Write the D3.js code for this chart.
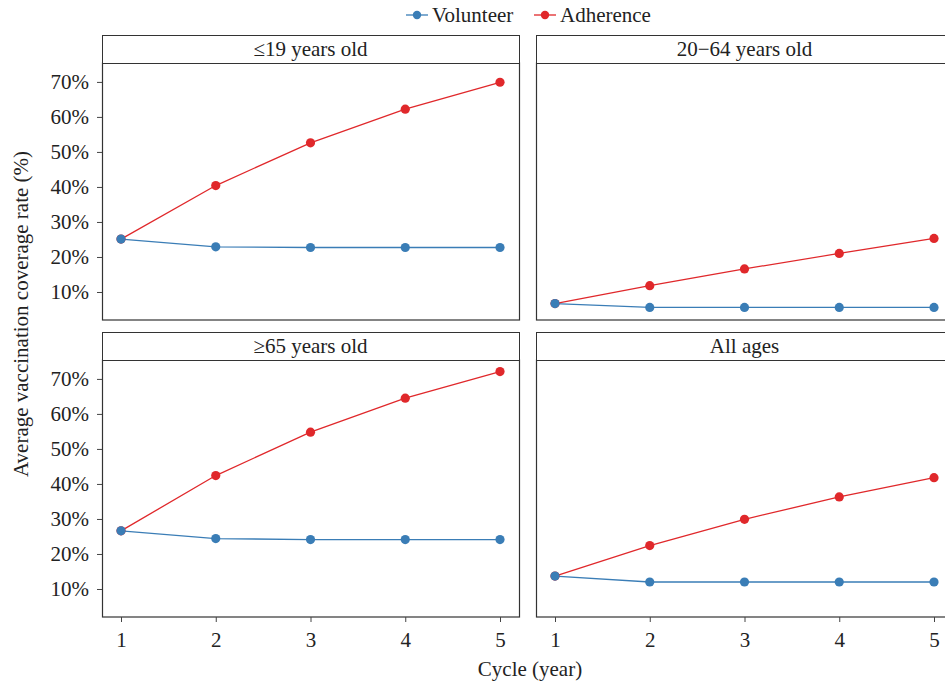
<!DOCTYPE html>
<html>
<head>
<meta charset="utf-8" />
<script src="https://cdn.jsdelivr.net/npm/d3@7"></script>
<style>
  body { margin: 0; background: #fff; }
  svg text { font-family: "Liberation Serif", "Times New Roman", Times, "DejaVu Serif", serif !important; fill: #222; }
</style>
</head>
<body>
<svg width="945" height="687"></svg>
<script>
// data
var cycles = [1, 2, 3, 4, 5];
var panels = ["\u226419 years old", "20\u221264 years old", "\u226565 years old", "All ages"];
var volunteer = [
  [25.1, 22.9, 22.7, 22.7, 22.7],
  [6.7, 5.6, 5.6, 5.6, 5.6],
  [26.6, 24.4, 24.1, 24.1, 24.1],
  [13.7, 12.0, 12.0, 12.0, 12.0]
];
var adherence = [
  [25.1, 40.4, 52.6, 62.2, 69.9],
  [6.7, 11.8, 16.6, 21.0, 25.3],
  [26.6, 42.4, 54.8, 64.5, 72.1],
  [13.7, 22.4, 29.9, 36.3, 41.8]
];
var yTicks = [10, 20, 30, 40, 50, 60, 70];
var seriesNames = ["Volunteer", "Adherence"];
var colors = ["#3a7db6", "#e0282b"];

var svg = d3.select("svg");
var fs = 21;

var panelW = 417, plotH = 257, stripH = 28;
var panelX = [102, 536];
var panelY = [35, 332];   // top of strip

var x = d3.scaleLinear().domain([1, 5]).range([19, 398]);
var y = d3.scaleLinear().domain([2.0, 75.4]).range([plotH, 0]);

var line = d3.line()
  .x(function(d, i) { return x(cycles[i]); })
  .y(function(d) { return y(d); });

panels.forEach(function(name, p) {
  var col = p % 2, row = Math.floor(p / 2);
  var g = svg.append("g")
    .attr("transform", "translate(" + panelX[col] + "," + (panelY[row] + stripH) + ")");

  // strip
  var strip = svg.append("g")
    .attr("transform", "translate(" + panelX[col] + "," + panelY[row] + ")");
  strip.append("rect")
    .attr("x", 0.5).attr("y", 0.5)
    .attr("width", panelW).attr("height", stripH)
    .attr("fill", "#fff").attr("stroke", "#333").attr("stroke-width", 1);
  strip.append("text")
    .attr("x", panelW / 2).attr("y", 21)
    .attr("text-anchor", "middle")
    .attr("font-size", fs)
    .text(name);

  // panel border
  g.append("rect")
    .attr("x", 0.5).attr("y", 0)
    .attr("width", panelW).attr("height", plotH)
    .attr("fill", "none").attr("stroke", "#333").attr("stroke-width", 1.2);
  g.append("line")
    .attr("x1", 0).attr("x2", panelW + 1)
    .attr("y1", 0).attr("y2", 0)
    .attr("stroke", "#111").attr("stroke-width", 2);

  // y axis on left column only
  if (col == 0) {
    var ya = g.append("g")
      .call(d3.axisLeft(y).tickValues(yTicks).tickSize(5).tickPadding(8)
        .tickFormat(function(d) { return d + "%"; }));
    ya.select(".domain").remove();
    ya.selectAll("line").attr("stroke", "#444");
    ya.selectAll("text").attr("font-size", fs).attr("fill", "#222");
  }

  // x axis on bottom row only
  if (row == 1) {
    var xa = g.append("g")
      .attr("transform", "translate(0," + plotH + ")")
      .call(d3.axisBottom(x).tickValues(cycles).tickSize(5).tickPadding(10)
        .tickFormat(d3.format("d")));
    xa.select(".domain").remove();
    xa.selectAll("line").attr("stroke", "#444");
    xa.selectAll("text").attr("font-size", fs).attr("fill", "#222");
  }

  [volunteer[p], adherence[p]].forEach(function(vals, s) {
    g.append("path")
      .datum(vals)
      .attr("d", line)
      .attr("fill", "none")
      .attr("stroke", colors[s])
      .attr("stroke-width", 1.3);
  });
  // adherence points first, volunteer on top
  [adherence[p], volunteer[p]].forEach(function(vals, k) {
    var s = k == 0 ? 1 : 0;
    g.selectAll(null)
      .data(vals)
      .enter().append("circle")
      .attr("cx", function(d, i) { return x(cycles[i]); })
      .attr("cy", function(d) { return y(d); })
      .attr("r", 4.6)
      .attr("fill", colors[s]);
  });
});

// axis titles
svg.append("text")
  .attr("x", 530).attr("y", 676)
  .attr("text-anchor", "middle")
  .attr("font-size", fs)
  .text("Cycle (year)");
svg.append("text")
  .attr("transform", "translate(28,314) rotate(-90)")
  .attr("text-anchor", "middle")
  .attr("font-size", fs)
  .text("Average vaccination coverage rate (%)");

// legend
var legX = [406, 534];
seriesNames.forEach(function(name, s) {
  var lg = svg.append("g").attr("transform", "translate(" + legX[s] + ",15)");
  lg.append("line").attr("x1", 0).attr("x2", 22).attr("y1", 0).attr("y2", 0)
    .attr("stroke", colors[s]).attr("stroke-width", 1.3);
  lg.append("circle").attr("cx", 11).attr("cy", 0).attr("r", 4.2).attr("fill", colors[s]);
  lg.append("text").attr("x", 26).attr("y", 7).attr("font-size", fs).text(name);
});
</script>
</body>
</html>
